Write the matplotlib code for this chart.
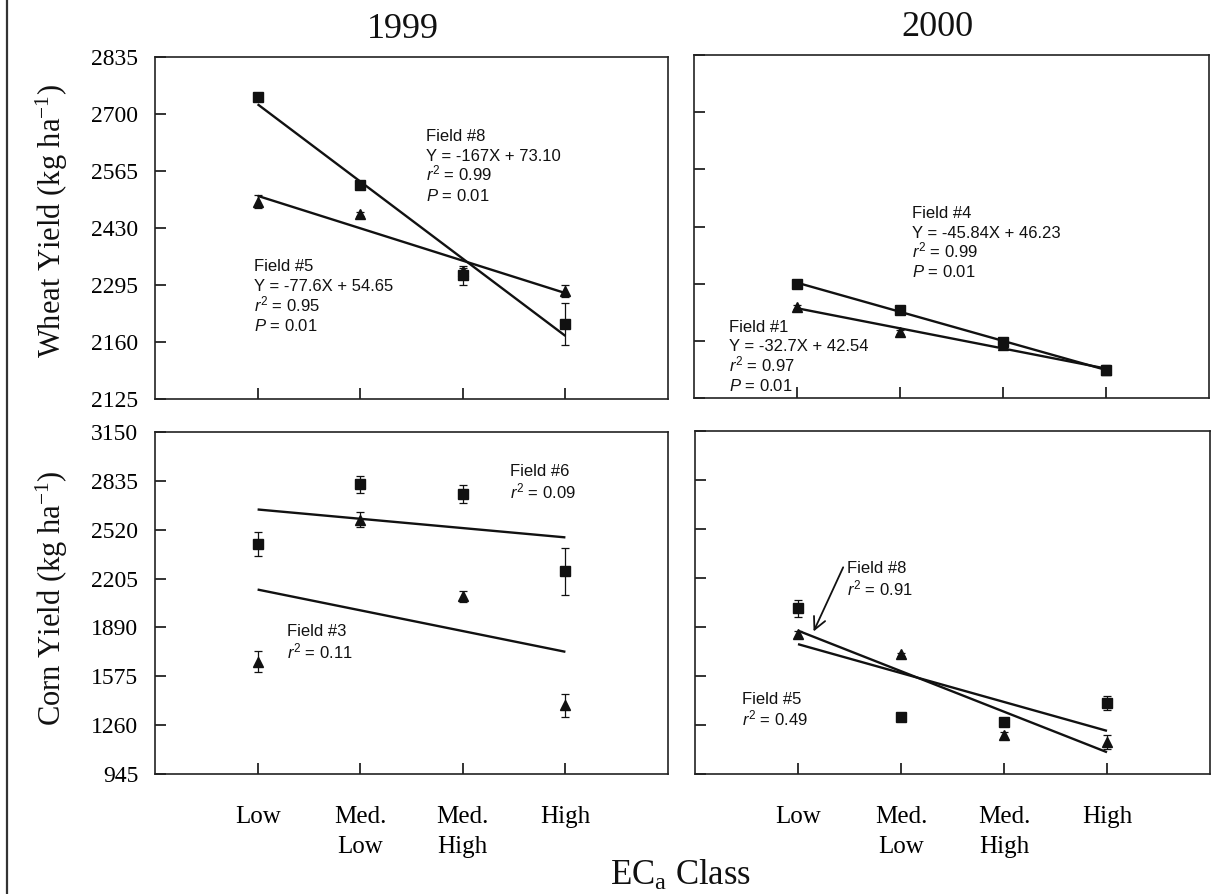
import numpy as np
import matplotlib
matplotlib.use('Agg')
import matplotlib.pyplot as plt
from matplotlib.lines import Line2D

plt.rcParams['font.family'] = ['Liberation Serif', 'DejaVu Serif']
plt.rcParams['mathtext.fontset'] = 'custom'
plt.rcParams['mathtext.rm'] = 'Liberation Sans'
plt.rcParams['mathtext.it'] = 'Liberation Sans:italic'

# ---------------- data ----------------
classes = ['Low', 'Med.\nLow', 'Med.\nHigh', 'High']
years = ['1999', '2000']

wheat_yticks = [2025, 2160, 2295, 2430, 2565, 2700, 2835]
wheat_yticklabels = ['2125', '2160', '2295', '2430', '2565', '2700', '2835']
corn_yticks = [945, 1260, 1575, 1890, 2205, 2520, 2835, 3150]
corn_yticklabels = ['945', '1260', '1575', '1890', '2205', '2520', '2835', '3150']

# 1999 wheat
w99_f8 = [2741, 2533, 2318, 2203]
w99_f8_err = [9, 6, 22, 50]
w99_f5 = [2492, 2463, 2328, 2281]
w99_f5_err = [15, 4, 8, 15]

# 2000 wheat
w00_f4 = [2295, 2233, 2158, 2091]
w00_f4_err = [5, 5, 8, 8]
w00_f1 = [2240, 2181, 2150, 2092]
w00_f1_err = [5, 5, 5, 10]

# 1999 corn
c99_f6 = [2430, 2812, 2749, 2251]
c99_f6_err = [78, 56, 59, 154]
c99_f3 = [1670, 2585, 2090, 1389]
c99_f3_err = [69, 47, 33, 75]

# 2000 corn
c00_f5 = [2010, 1313, 1279, 1402]
c00_f5_err = [53, 10, 22, 45]
c00_f8 = [1844, 1714, 1197, 1148]
c00_f8_err = [20, 10, 20, 45]

ann_w99_f8 = ['Field #8', 'Y = -167X + 73.10', '$r^2$ = 0.99', '$P$ = 0.01']
ann_w99_f5 = ['Field #5', 'Y = -77.6X + 54.65', '$r^2$ = 0.95', '$P$ = 0.01']
ann_w00_f4 = ['Field #4', 'Y = -45.84X + 46.23', '$r^2$ = 0.99', '$P$ = 0.01']
ann_w00_f1 = ['Field #1', 'Y = -32.7X + 42.54', '$r^2$ = 0.97', '$P$ = 0.01']
ann_c99_f6 = ['Field #6', '$r^2$ = 0.09']
ann_c99_f3 = ['Field #3', '$r^2$ = 0.11']
ann_c00_f8 = ['Field #8', '$r^2$ = 0.91']
ann_c00_f5 = ['Field #5', '$r^2$ = 0.49']

# ---------------- figure ----------------
W, H = 1213, 894
fig = plt.figure(figsize=(W / 100, H / 100), dpi=100)

def rect(l, r, t, b):
    return [l / W, 1 - b / H, (r - l) / W, (b - t) / H]

ax_tl = fig.add_axes(rect(155, 668, 57, 399))
ax_tr = fig.add_axes(rect(694, 1209, 55, 398))
ax_bl = fig.add_axes(rect(155, 668, 432, 774))
ax_br = fig.add_axes(rect(695, 1210, 431, 774))

x = np.arange(len(classes))
ink = '#111111'

def series(ax, y, err, marker, ms):
    ax.errorbar(x, y, yerr=err, fmt=marker, color=ink, ms=ms, mfc=ink,
                mec=ink, ecolor=ink, elinewidth=0.9, capsize=2.6,
                capthick=0.9, zorder=3)
    k, b = np.polyfit(x, y, 1)
    ax.plot([x[0], x[-1]], [k * x[0] + b, k * x[-1] + b], color=ink,
            lw=1.7, zorder=4, solid_capstyle='butt')

def annot(ax, xd, yd, lines, step):
    for i, s in enumerate(lines):
        ax.annotate(s, xy=(xd, yd), xycoords='data',
                    xytext=(0, -i * step), textcoords='offset points',
                    fontsize=12, family='Liberation Sans', ha='left',
                    va='baseline', color=ink)

def style(ax, yticks, ylabels, show_y, show_x):
    ax.set_xlim(-1, 4)
    ax.set_ylim(yticks[0], yticks[-1])
    ax.set_xticks(x)
    ax.set_yticks(yticks)
    if show_x:
        ax.set_xticklabels(classes, fontsize=18, linespacing=1.45)
    else:
        ax.set_xticklabels([])
    if show_y:
        ax.set_yticklabels(ylabels, fontsize=17)
    else:
        ax.set_yticklabels([])
    ax.tick_params(axis='both', direction='in', length=8, width=1.2,
                   color=ink)
    ax.tick_params(axis='y', pad=12)
    ax.tick_params(axis='x', pad=23)
    for sp in ax.spines.values():
        sp.set_linewidth(1.2)
        sp.set_color('#222222')

# 1999 wheat
series(ax_tl, w99_f5, w99_f5_err, '^', 6.5)
series(ax_tl, w99_f8, w99_f8_err, 's', 6.5)
style(ax_tl, wheat_yticks, wheat_yticklabels, True, False)
annot(ax_tl, 1.646, 2635, ann_w99_f8, 14.2)
annot(ax_tl, -0.034, 2327, ann_w99_f5, 14.2)

# 2000 wheat
series(ax_tr, w00_f1, w00_f1_err, '^', 6.5)
series(ax_tr, w00_f4, w00_f4_err, 's', 6.5)
style(ax_tr, wheat_yticks, wheat_yticklabels, False, False)
annot(ax_tr, 1.117, 2450, ann_w00_f4, 14.2)
annot(ax_tr, -0.665, 2182, ann_w00_f1, 14.2)

# 1999 corn
series(ax_bl, c99_f3, c99_f3_err, '^', 6.5)
series(ax_bl, c99_f6, c99_f6_err, 's', 6.5)
style(ax_bl, corn_yticks, corn_yticklabels, True, True)
annot(ax_bl, 2.463, 2864, ann_c99_f6, 16.2)
annot(ax_bl, 0.282, 1837, ann_c99_f3, 16.2)

# 2000 corn
series(ax_br, c00_f8, c00_f8_err, '^', 6.5)
series(ax_br, c00_f5, c00_f5_err, 's', 6.5)
style(ax_br, corn_yticks, corn_yticklabels, False, True)
annot(ax_br, 0.476, 2236, ann_c00_f8, 15.8)
annot(ax_br, -0.544, 1398, ann_c00_f5, 15.8)
ax_br.annotate('', xy=(0.14, 1845), xytext=(0.45, 2290),
               arrowprops=dict(arrowstyle='->', color=ink, lw=1.3,
                               mutation_scale=22))

# titles and axis labels
fig.text(403 / W, 1 - 38 / H, years[0], fontsize=26, ha='center',
         va='baseline', color=ink)
fig.text(937 / W, 1 - 36 / H, years[1], fontsize=26, ha='center',
         va='baseline', color=ink)
fig.text(52 / W, 1 - 221 / H, 'Wheat Yield (kg ha$\\mathregular{^{-1}}$)',
         fontsize=22, rotation=90, ha='center', va='center', color=ink)
fig.text(52 / W, 1 - 598 / H, 'Corn Yield (kg ha$\\mathregular{^{-1}}$)',
         fontsize=22, rotation=90, ha='center', va='center', color=ink)
fig.text(681 / W, 1 - 885 / H, 'EC$\\mathregular{_a}$ Class', fontsize=25,
         ha='center', va='baseline', color=ink)

# left frame line of the scanned page
fig.add_artist(Line2D([7 / W, 7 / W], [0, 1], transform=fig.transFigure,
                      color='#333333', lw=1.6))

fig.savefig('out.png', dpi=100)
